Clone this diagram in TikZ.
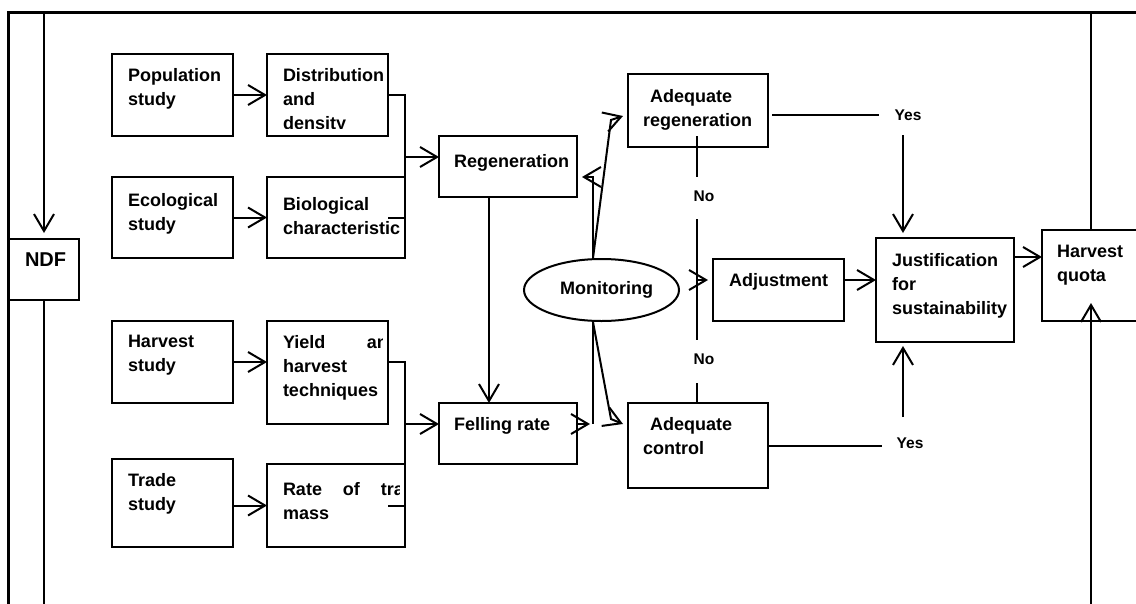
\documentclass[tikz,border=0pt]{standalone}
\usepackage{fontspec}
\setmainfont{Liberation Sans}
\usetikzlibrary{arrows.meta,shapes.geometric,calc}
\tikzset{
  ln/.style={line width=2pt},
  arr/.style={line width=2pt, -{Straight Barb[length=17pt,width=20pt]}},
  boxst/.style={draw, line width=2pt, inner sep=0pt, outer sep=0pt, shape=rectangle},
  txt/.style={draw=none, inner sep=0pt, outer sep=0pt, minimum width=0pt, minimum height=0pt,
    align=left, font=\fontsize{18}{24}\selectfont\bfseries},
  lbl/.style={inner sep=0pt, font=\fontsize{15.5}{18}\selectfont\bfseries},
}
\newcommand\bx[8]{%
  \node[boxst, minimum width={(#4)-(#2)}, minimum height={(#5)-(#3)}, anchor=north west,
    path picture={%
      \clip (path picture bounding box.north west) rectangle ([xshift=-5.5pt,yshift=8pt]path picture bounding box.south east);
      \node[txt, anchor=north west] at ([xshift=#6pt,yshift=-#7pt]path picture bounding box.north west) {#8};
    }] (#1) at (#2,#3) {};}
\begin{document}
\begin{tikzpicture}[x=1pt,y=-1pt]
\useasboundingbox (0,0) rectangle (1136,603);
\clip (0,0) rectangle (1136,603);
% boxes
\bx{pop}{112}{54}{233}{136}{16}{14}{Population\\study}
\bx{dist}{267}{54}{388}{136}{16}{14}{Distribution\\and\\density}
\bx{eco}{112}{177}{233}{258}{16}{16}{Ecological\\study}
\bx{bio}{267}{177}{405}{258}{16}{20}{Biological\\characteristics}
\bx{harv}{112}{321}{233}{403}{16}{14}{Harvest\\study}
\bx{yield}{267}{321}{388}{424}{16}{14}{\makebox[116pt][s]{Yield and}\\harvest\\techniques}
\bx{trade}{112}{459}{233}{547}{16}{14}{Trade\\study}
\bx{rate}{267}{464}{405}{547}{16}{18}{\makebox[142pt][s]{Rate of trade}\\mass}
\bx{regen}{439}{136}{577}{197}{15}{18}{Regeneration}
\bx{fell}{439}{403}{577}{464}{15}{14}{Felling rate}
\bx{adreg}{628}{74}{768}{147}{15}{15}{\hspace*{7pt}Adequate\\regeneration}
\bx{adctrl}{628}{403}{768}{488}{15}{14}{\hspace*{7pt}Adequate\\control}
\bx{adj}{713}{259}{844}{321}{16}{14}{Adjustment}
\bx{just}{876}{238}{1014}{342}{16}{15}{Justification\\for\\sustainability}
\bx{quota}{1042}{230}{1150}{321}{15}{15}{Harvest\\quota}
\bx{ndf}{8}{239}{79}{300}{17}{14}{\fontsize{20}{24}\selectfont NDF}
\node[ellipse, draw, line width=2pt, minimum width=155pt, minimum height=62pt, inner sep=0pt,
  font=\fontsize{18}{24}\selectfont\bfseries] (mon) at (601.5,290) {\hspace*{10pt}Monitoring};
% frame
\draw[line width=3pt] (8,610) -- (8,12) -- (1140,12);
\coordinate (ndfin) at (44,12);
\draw[arr] (ndfin) -- ([yshift=6pt]ndfin |- ndf.north);
\coordinate (ndfout) at (44,610);
\draw[ln] (ndfout |- ndf.south) -- (ndfout);
\coordinate (qtop) at (1091,12);
\draw[ln] (qtop) -- (qtop |- quota.north);
\coordinate (qbot) at (1091,610);
\draw[arr] (qbot) -- ([yshift=18pt]qbot |- quota.south);
% left side
\draw[arr] (pop.east) -- (dist.west);
\draw[arr] (eco.east) -- (bio.west);
\draw[arr] (harv.east) -- (harv.east -| yield.west);
\draw[arr] (rate.west -| trade.east) -- (rate.west);
\draw[ln] (dist.east) -| (bio.south east);
\draw[ln] ([xshift=-17pt]bio.east) -- (bio.east);
\coordinate (j1) at (405,157);
\draw[arr] (j1) -- (j1 -| regen.west);
\draw[ln] (harv.east -| yield.east) -| (rate.south east);
\draw[ln] ([xshift=-17pt]rate.east) -- (rate.east);
\coordinate (j2) at (405,424);
\draw[arr] (j2) -- (j2 -| fell.west);
\coordinate (rg) at (489,197);
\draw[arr] (rg) -- (rg |- fell.north);
% monitoring
\coordinate (mt) at ([xshift=-8.5pt]mon.north);
\coordinate (mb) at ([xshift=-8.5pt]mon.south);
\coordinate (rgt) at (582,177);
\draw[arr] (mt) |- (rgt);
\coordinate (art) at (623,116);
\draw[arr] (mt) -- (611,120) -- (art);
\coordinate (fm) at (593,424);
\draw[ln] (mb) -- (fm);
\draw[arr] (fell.east |- fm) -- ([xshift=-3pt]fm);
\coordinate (act) at (623,424);
\draw[arr] (mb) -- (611,419) -- (act);
% yes / no
\node[lbl] (yes1) at (908,115) {Yes};
\node[lbl] (yes2) at (910,443) {Yes};
\node[lbl] (no1) at (704,196) {No};
\node[lbl] (no2) at (704,359) {No};
\coordinate (ya) at (772,115);
\coordinate (yb) at (879,115);
\draw[ln] (ya) -- (yb);
\coordinate (yd) at (903,135);
\coordinate (ydt) at (903,233);
\draw[arr] (yd) -- (ydt);
\draw[ln] (adctrl.east) -- ++(114,0);
\coordinate (yu) at (903,417);
\coordinate (yut) at (903,346);
\draw[arr] (yu) -- (yut);
\coordinate (n0) at (697,136);
\draw[ln] (n0) -- (697,177);
\draw[ln] (697,219) -- (697,340);
\draw[ln] (697,383) -- (n0 |- adctrl.north);
\coordinate (aj) at (697,280);
\draw[arr] (aj) -- ([xshift=-5pt]aj -| adj.west);
\draw[arr] (adj.east |- aj) -- (just.west |- aj);
\coordinate (jq) at (1014,257);
\draw[arr] (jq) -- (jq -| quota.west);
\end{tikzpicture}
\end{document}
